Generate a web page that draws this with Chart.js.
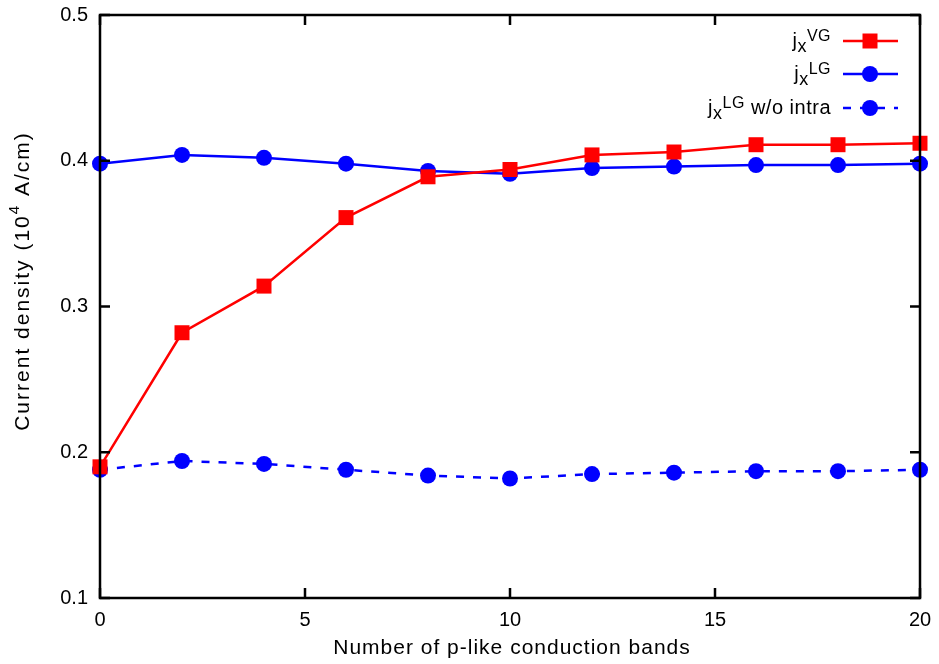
<!DOCTYPE html>
<html>
<head>
<meta charset="utf-8">
<script src="https://cdn.jsdelivr.net/npm/chart.js@4"></script>
<style>
  html, body { margin: 0; padding: 0; background: #fff; }
  canvas { display: block; }
</style>
</head>
<body>
<canvas id="chart" width="939" height="664"></canvas>
<script>
// number of p-like conduction bands
const bands = [0, 2, 4, 6, 8, 10, 12, 14, 16, 18, 20];
// current density, 10^4 A/cm
const jxVG = [0.190, 0.282, 0.314, 0.361, 0.389, 0.394, 0.404, 0.406, 0.411, 0.411, 0.412];
const jxLG = [0.398, 0.404, 0.402, 0.398, 0.393, 0.391, 0.395, 0.396, 0.397, 0.397, 0.398];
const jxLGnoIntra = [0.188, 0.194, 0.192, 0.188, 0.184, 0.182, 0.185, 0.186, 0.187, 0.187, 0.188];
const xTicks = [0, 5, 10, 15, 20];
const yTicks = [0.1, 0.2, 0.3, 0.4, 0.5];

const FONT = '"Liberation Sans", Arial, Helvetica, sans-serif';

function toPoints(ys) {
    return bands.map((b, i) => ({ x: b, y: ys[i] }));
}

// box, inward ticks, axis titles and the gnuplot-like legend
const decorations = {
    id: 'decorations',
    afterDraw(chart) {
        const ctx = chart.ctx;
        const a = chart.chartArea;
        const xs = chart.scales.x, ys = chart.scales.y;
        ctx.save();
        ctx.strokeStyle = '#000';
        ctx.lineWidth = 2.5;
        ctx.strokeRect(a.left, a.top, a.right - a.left, a.bottom - a.top);
        ctx.beginPath();
        xTicks.forEach(v => {
            const px = xs.getPixelForValue(v);
            ctx.moveTo(px, a.bottom); ctx.lineTo(px, a.bottom - 10);
            ctx.moveTo(px, a.top); ctx.lineTo(px, a.top + 10);
        });
        yTicks.forEach(v => {
            const py = ys.getPixelForValue(v);
            ctx.moveTo(a.left, py); ctx.lineTo(a.left + 10, py);
            ctx.moveTo(a.right, py); ctx.lineTo(a.right - 10, py);
        });
        ctx.stroke();

        // y title with superscript
        ctx.fillStyle = '#000';
        ctx.translate(23, 281);
        ctx.rotate(-Math.PI / 2);
        ctx.textBaseline = 'middle';
        ctx.letterSpacing = '2px';
        ctx.font = '21px ' + FONT;
        const p1 = 'Current density (10', p2 = '4', p3 = ' A/cm)';
        const w1 = ctx.measureText(p1).width;
        ctx.font = '15px ' + FONT;
        const w2 = ctx.measureText(p2).width;
        ctx.font = '21px ' + FONT;
        const w3 = ctx.measureText(p3).width;
        let x0 = -(w1 + w2 + w3) / 2;
        ctx.textAlign = 'left';
        ctx.fillText(p1, x0, 0);
        ctx.font = '15px ' + FONT;
        ctx.fillText(p2, x0 + w1, -8);
        ctx.font = '21px ' + FONT;
        ctx.fillText(p3, x0 + w1 + w2, 0);
        ctx.restore();

        // x title
        ctx.save();
        ctx.fillStyle = '#000';
        ctx.font = '21px ' + FONT;
        ctx.letterSpacing = '1px';
        ctx.textAlign = 'center';
        ctx.textBaseline = 'middle';
        ctx.fillText('Number of p-like conduction bands', (a.left + a.right) / 2 + 2, 648);
        ctx.restore();

        // legend: j, subscript x, superscript tag, then the rest
        const rows = [
            { sup: 'VG', tail: '', ds: 0, y: 41 },
            { sup: 'LG', tail: '', ds: 1, y: 74 },
            { sup: 'LG', tail: ' w/o intra', ds: 2, y: 108 }
        ];
        rows.forEach(r => {
            const d = chart.data.datasets[r.ds];
            ctx.save();
            ctx.fillStyle = '#000';
            ctx.textBaseline = 'alphabetic';
            ctx.textAlign = 'left';
            ctx.letterSpacing = '0.5px';
            ctx.font = '20px ' + FONT;
            const wj = ctx.measureText('j').width;
            const wt = ctx.measureText(r.tail).width;
            ctx.font = '18px ' + FONT;
            const wx = ctx.measureText('x').width;
            ctx.font = '16px ' + FONT;
            const ws = ctx.measureText(r.sup).width;
            let sx = 831 - (wj + wx + ws + wt);
            ctx.font = '20px ' + FONT;
            ctx.fillText('j', sx, r.y + 6);
            ctx.font = '18px ' + FONT;
            ctx.fillText('x', sx + wj, r.y + 11);
            ctx.font = '16px ' + FONT;
            ctx.fillText(r.sup, sx + wj + wx, r.y);
            ctx.font = '20px ' + FONT;
            ctx.fillText(r.tail, sx + wj + wx + ws, r.y + 6);

            ctx.strokeStyle = d.borderColor;
            ctx.lineWidth = d.borderWidth;
            ctx.setLineDash(d.borderDash || []);
            ctx.beginPath();
            ctx.moveTo(843, r.y);
            ctx.lineTo(898, r.y);
            ctx.stroke();
            ctx.setLineDash([]);
            ctx.fillStyle = d.pointBackgroundColor;
            ctx.beginPath();
            if (d.pointStyle === 'rect') {
                ctx.rect(870 - 7.5, r.y - 7.5, 15, 15);
            } else {
                ctx.arc(870, r.y, d.pointRadius, 0, Math.PI * 2);
            }
            ctx.fill();
            ctx.restore();
        });
    }
};

const ctx = document.getElementById('chart').getContext('2d');
const myChart = new Chart(ctx, {
    type: 'line',
    data: {
        datasets: [{
            label: 'jx VG',
            data: toPoints(jxVG),
            borderColor: '#ff0000',
            backgroundColor: '#ff0000',
            pointBackgroundColor: '#ff0000',
            pointBorderWidth: 0,
            pointStyle: 'rect',
            pointRadius: 10.6,
            borderWidth: 2.5,
            clip: false
        }, {
            label: 'jx LG',
            data: toPoints(jxLG),
            borderColor: '#0000ff',
            backgroundColor: '#0000ff',
            pointBackgroundColor: '#0000ff',
            pointBorderWidth: 0,
            pointStyle: 'circle',
            pointRadius: 8,
            borderWidth: 2.5,
            clip: false
        }, {
            label: 'jx LG w/o intra',
            data: toPoints(jxLGnoIntra),
            borderColor: '#0000ff',
            backgroundColor: '#0000ff',
            pointBackgroundColor: '#0000ff',
            pointBorderWidth: 0,
            pointStyle: 'circle',
            pointRadius: 8,
            borderWidth: 2.5,
            borderDash: [8, 9],
            clip: false
        }]
    },
    options: {
        responsive: false,
        animation: false,
        layout: { autoPadding: false, padding: { top: 15, right: 19, left: 0, bottom: 0 } },
        plugins: {
            legend: { display: false },
            tooltip: { enabled: false }
        },
        scales: {
            x: {
                type: 'linear',
                min: 0,
                max: 20,
                afterFit(scale) {
                    scale.height = 66;
                    scale.paddingLeft = 0;
                    scale.paddingRight = 0;
                },
                afterBuildTicks(scale) { scale.ticks = xTicks.map(v => ({ value: v })); },
                grid: { display: false, drawTicks: false },
                border: { display: false },
                ticks: {
                    padding: 10,
                    color: '#000',
                    font: { family: FONT, size: 20 },
                    maxRotation: 0
                }
            },
            y: {
                type: 'linear',
                min: 0.1,
                max: 0.5,
                afterFit(scale) {
                    scale.width = 100;
                    scale.paddingTop = 0;
                    scale.paddingBottom = 0;
                },
                afterBuildTicks(scale) { scale.ticks = yTicks.map(v => ({ value: v })); },
                grid: { display: false, drawTicks: false },
                border: { display: false },
                ticks: {
                    padding: 12,
                    color: '#000',
                    font: { family: FONT, size: 20 },
                    callback: v => v.toFixed(1)
                }
            }
        }
    },
    plugins: [decorations]
});
</script>
</body>
</html>
